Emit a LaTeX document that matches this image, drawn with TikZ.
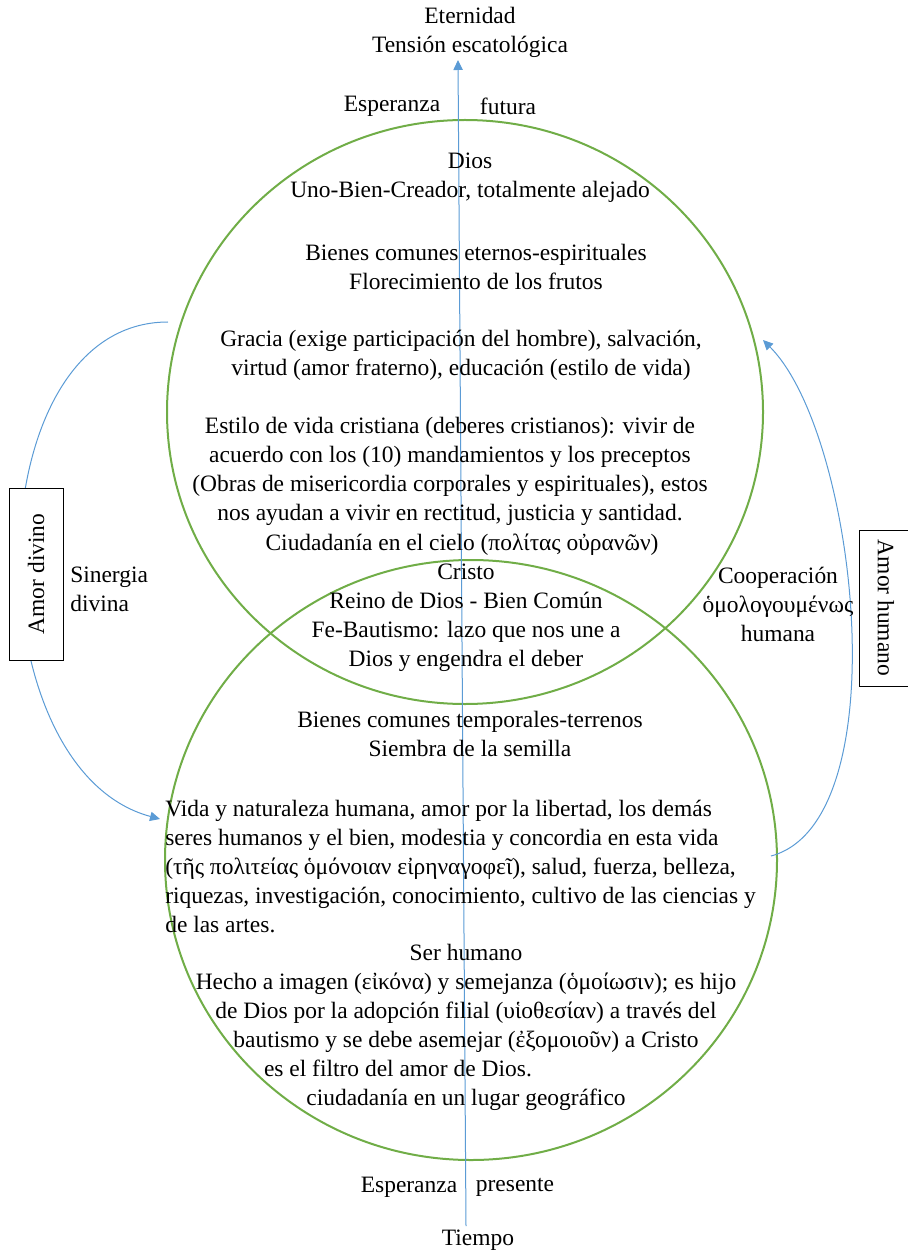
\documentclass[tikz,border=0pt]{standalone}
\usepackage{fontspec}
\setmainfont{Liberation Serif}
\usetikzlibrary{arrows.meta,positioning}
\definecolor{ringgreen}{RGB}{112,173,71}
\definecolor{flowblue}{RGB}{91,155,213}

\begin{document}
\begin{tikzpicture}[
  x=0.75pt, y=0.75pt,
  font=\fontsize{17.6pt}{21.75pt}\selectfont,
  ring/.style={draw=ringgreen, line width=1.5pt},
  flow/.style={draw=flowblue, line width=0.75pt, -{Triangle[length=7.5pt,width=7pt]}},
  txt/.style={align=center, inner sep=0pt},
  sidebox/.style={draw, fill=white, line width=0.6pt, minimum width=129pt, minimum height=40.5pt, inner sep=0pt}
]
  \useasboundingbox (0,0) rectangle (907,-1251);
  % the two spheres
  \draw[ring] (465,-412) ellipse [x radius=298, y radius=292];
  \draw[ring] (471,-860) ellipse [x radius=306, y radius=300];

  % time axis
  \coordinate (tbot) at (466,-1226);
  \coordinate (ttop) at (458,-60);
  \draw[flow] (tbot) -- (ttop);

  \node[txt] (eternity) at (470,-32) {Eternidad\\Tensión escatológica};
  \node[txt] (hopefut) at (392,-106) {Esperanza};
  \node[txt] (futura) at (508,-106) {futura};

  % upper sphere
  \node[txt] (dios) at (470,-178) {Dios\\Uno-Bien-Creador, totalmente alejado};
  \node[txt] (eternal) at (476,-267) {Bienes comunes eternos-espirituales\\Florecimiento de los frutos};
  \node[txt] (grace) at (461,-355) {Gracia (exige participación del hombre), salvación,\\virtud (amor fraterno), educación (estilo de vida)};
  \node[txt] (duties) at (450,-471) {Estilo de vida cristiana (deberes cristianos): vivir de\\acuerdo con los (10) mandamientos y los preceptos\\(Obras de misericordia corporales y espirituales), estos\\nos ayudan a vivir en rectitud, justicia y santidad.};
  \node[txt] (heaven) at (462,-545) {Ciudadanía en el cielo (πολίτας οὐρανῶν)};

  % overlap
  \node[txt] (christ) at (466,-618) {Cristo\\Reino de Dios - Bien Común\\Fe-Bautismo: lazo que nos une a\\Dios y engendra el deber};

  % lower sphere
  \node[txt] (temporal) at (470,-734) {Bienes comunes temporales-terrenos\\Siembra de la semilla};
  \node[txt, align=left, anchor=west] (life) at (165,-866) {Vida y naturaleza humana, amor por la libertad, los demás\\seres humanos y el bien, modestia y concordia en esta vida\\(τῆς πολιτείας ὁμόνοιαν εἰρηναγοφεῖ), salud, fuerza, belleza,\\riquezas, investigación, conocimiento, cultivo de las ciencias y\\de las artes.};
  \node[txt] (human) at (466,-1027) {Ser humano\\Hecho a imagen (εἰκόνα) y semejanza (ὁμοίωσιν); es hijo\\de Dios por la adopción filial (υἱοθεσίαν) a través del\\bautismo y se debe asemejar (ἐξομοιοῦν) a Cristo\\\makebox[303pt][l]{es el filtro del amor de Dios.}\\ciudadanía en un lugar geográfico};

  \node[txt] (hopepres) at (409,-1187) {Esperanza};
  \node[txt] (presente) at (515,-1187) {presente};
  \node[txt] (tiempo) at (478,-1240) {Tiempo};

  % divine love
  \coordinate (dstart) at (168,-322);
  \coordinate (dend) at (160,-819);
  \draw[flow] (dstart) to[out=180,in=165] (dend);
  \node[sidebox, rotate=90] (divine) at (36,-574) {Amor divino};
  \node[txt, align=left, anchor=west] (synergy) at (70,-589) {Sinergia\\divina};

  % human love
  \coordinate (hstart) at (771,-856);
  \coordinate (hend) at (763,-340);
  \draw[flow] (hstart) to[out=15,in=-45,looseness=0.66] (hend);
  \node[sidebox, rotate=-90, minimum width=117pt] (humanlove) at (886,-608) {Amor humano};
  \node[txt] (coop) at (778,-604) {Cooperación\\ὁμολογουμένως\\humana};
\end{tikzpicture}
\end{document}
